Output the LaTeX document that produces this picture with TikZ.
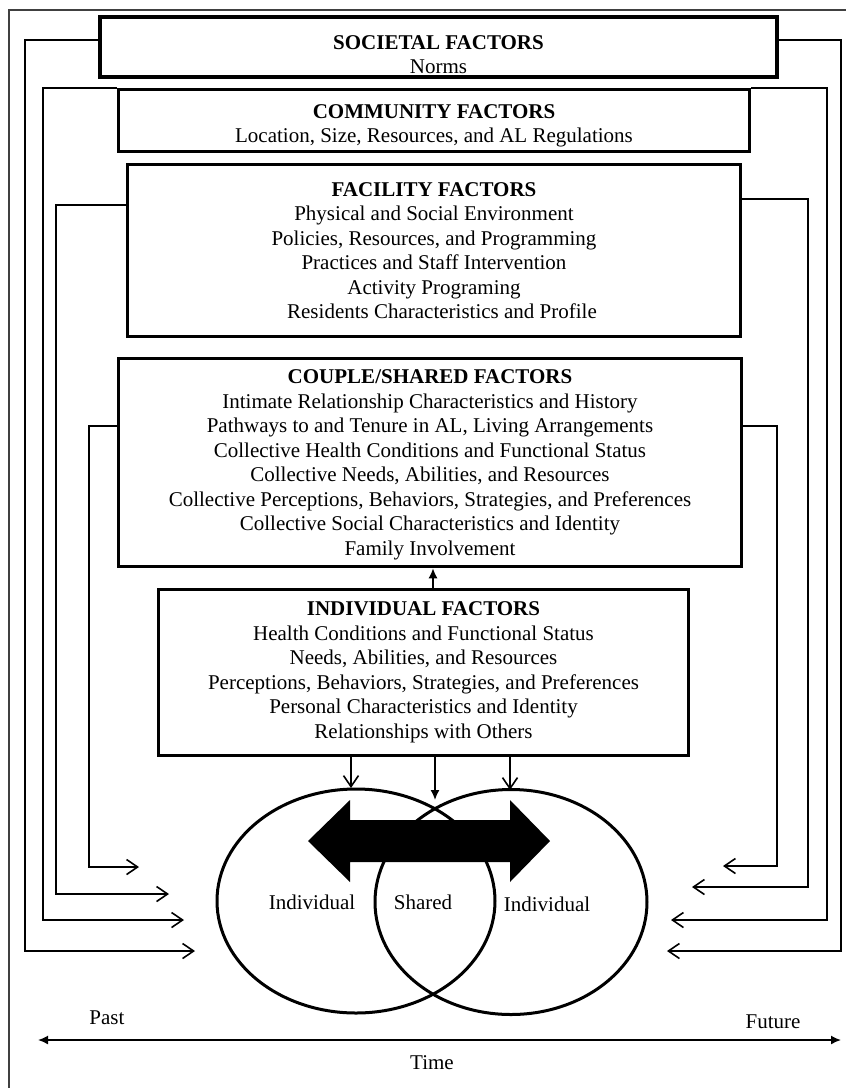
\documentclass[tikz,border=0pt]{standalone}
\usepackage{fontspec}
\setmainfont{Liberation Serif}
\usetikzlibrary{arrows.meta,shapes.geometric}
\begin{document}
\begin{tikzpicture}[x=1pt,y=-1pt,
  txt/.style={font=\fontsize{21}{24.5}\selectfont},
  box/.style={draw, line width=3.5pt, align=center, inner sep=0pt, txt},
  conn/.style={line width=1.6pt},
  barb/.style={-{Straight Barb[length=11pt,width=15pt,line width=1.6pt]}},
  fillarrow/.style={-{Latex[length=10pt,width=9pt]}},
  oval/.style={draw, ellipse, line width=3pt, inner sep=0pt},
  lbl/.style={txt, inner sep=0pt}]
\clip (0,0) rectangle (846,1088);
\useasboundingbox (0,0) rectangle (846,1088);
\fill[white] (0,0) rectangle (846,1088);

% outer frame
\draw[line width=1.5pt, black!75] (9,1100) -- (9,10) -- (860,10);

% boxes
\node[box, minimum width=677pt, minimum height=60pt] (soc) at (438.5,47)
  {\rule{0pt}{29pt}\textbf{SOCIETAL FACTORS}\\Norms};
\node[box, minimum width=631pt, minimum height=62pt] (comm) at (434,120.5)
  {\rule{0pt}{25pt}\textbf{COMMUNITY FACTORS}\\Location, Size, Resources, and AL Regulations};
\node[box, minimum width=613pt, minimum height=172pt] (fac) at (434,250.5)
  {\textbf{FACILITY FACTORS}\\Physical and Social Environment\\Policies, Resources, and Programming\\Practices and Staff Intervention\\Activity Programing\\\hspace*{16pt}Residents Characteristics and Profile};
\node[box, minimum width=623pt, minimum height=208pt] (cpl) at (430,462.5)
  {\rule{0pt}{19pt}\textbf{COUPLE/SHARED FACTORS}\\Intimate Relationship Characteristics and History\\Pathways to and Tenure in AL, Living Arrangements\\Collective Health Conditions and Functional Status\\Collective Needs, Abilities, and Resources\\Collective Perceptions, Behaviors, Strategies, and Preferences\\Collective Social Characteristics and Identity\\Family Involvement};
\node[box, minimum width=530pt, minimum height=166pt] (ind) at (423.5,672.5)
  {\textbf{INDIVIDUAL FACTORS}\\Health Conditions and Functional Status\\Needs, Abilities, and Resources\\Perceptions, Behaviors, Strategies, and Preferences\\Personal Characteristics and Identity\\Relationships with Others};

% arrow individual -> couple
\coordinate (uA) at (433,578);
\draw[conn, fillarrow] (ind.north -| uA) -- (cpl.south -| uA);

% ellipses
\node[oval, minimum width=278pt, minimum height=224pt] (eL) at (356,901) {};
\node[oval, minimum width=272pt, minimum height=225pt] (eR) at (511,902) {};

% big double arrow
\fill[black] (308,841) -- (350,800) -- (350,820) -- (510,820) -- (510,800)
  -- (550,841) -- (510,882) -- (510,862) -- (350,862) -- (350,882) -- cycle;

\node[lbl] (iL) at (312,902) {Individual};
\node[lbl] (sh) at (423,902) {Shared};
\node[lbl] (iR) at (547,904) {Individual};

% down arrows from individual box
\coordinate (dA) at (351,788);
\coordinate (dB) at (435,800);
\coordinate (dC) at (510,790);
\draw[conn, barb] (ind.south -| dA) -- (dA);
\draw[conn, fillarrow] (ind.south -| dB) -- (dB);
\draw[conn, barb] (ind.south -| dC) -- (dC);

% feedback connectors
\coordinate (lS) at (195,951);
\coordinate (lC) at (184,920);
\coordinate (lF) at (169,894);
\coordinate (lP) at (139,867);
\coordinate (rS) at (667,951);
\coordinate (rC) at (671,920);
\coordinate (rF) at (692,887);
\coordinate (rP) at (723,866);

\draw[conn, barb] ([yshift=7pt]soc.west) -- ++(-73,0) |- (lS);
\draw[conn, barb] (comm.north west) -- ++(-74,0) |- (lC);
\draw[conn, barb] ([yshift=45.5pt]fac.west) -- ++(-70,0) |- (lF);
\draw[conn, barb] ([yshift=36.5pt]cpl.west) -- ++(-28,0) |- (lP);

\draw[conn, barb] ([yshift=7pt]soc.east) -- ++(62,0) |- (rS);
\draw[conn, barb] (comm.north east) -- ++(76,0) |- (rC);
\draw[conn, barb] ([yshift=51.5pt]fac.east) -- ++(66,0) |- (rF);
\draw[conn, barb] ([yshift=36.5pt]cpl.east) -- ++(34,0) |- (rP);

% time axis
\coordinate (tL) at (38,1040);
\coordinate (tR) at (841,1040);
\draw[conn, {Latex[length=10pt,width=9pt]}-{Latex[length=10pt,width=9pt]}] (tL) -- (tR);
\node[lbl] (past) at (107,1018) {Past};
\node[lbl] (fut) at (773,1022) {Future};
\node[lbl] (time) at (432,1063) {Time};
\end{tikzpicture}
\end{document}
